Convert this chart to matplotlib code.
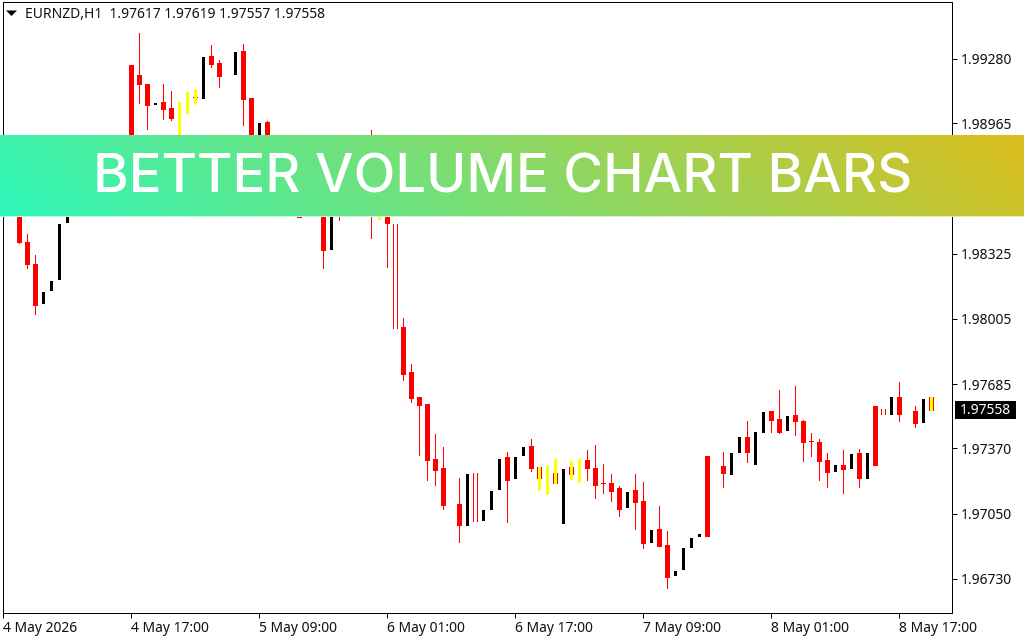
import numpy as np
import matplotlib
matplotlib.use("Agg")
import matplotlib.pyplot as plt
from matplotlib.patches import Rectangle, Polygon

# One entry per H1 bar. R solid red candle, K black bar, Y yellow bar, H hollow red candle, N no bar
bar_kinds = list(
    "RRRRRKKKKK" "KRKRKKRRRK" "RRYYYKRRNK" "RRKRKRKRKR"
    "RKRKRKRYRH" "RRRRRRNRKH" "KKKRKKRYYY" "KYYRRRRRKR"
    "RKRRKKKKRN" "RKKRKKRRKR" "RRRRKRKRKR" "HKRNRKY"
)
# prices in points (1 point = 0.00001)
highs = [198637,198640,198650,198421,198318,198137,198191,198471,198560,198620,
         198680,198720,198760,198800,198850,198890,199250,199407,199157,199064,
         199157,199123,199069,199118,199133,199289,199348,199275,None,199314,
         199353,199088,198966,198976,198850,198830,198780,198680,198660,198620,
         198650,198600,198650,198700,198760,198820,198931,198750,198700,198471,
         198010,197784,197622,197588,197441,197377,None,197225,197245,197249,
         197068,197161,197318,197352,197328,197377,197416,197279,197284,197318,
         197269,197308,197318,197362,197387,197294,197245,197186,197156,197245,
         197205,196970,197088,196965,196769,196882,196931,196950,197333,None,
         197352,197347,197426,197504,197450,197549,197553,197656,197529,197676,
         197509,197446,197416,197347,197289,197362,197343,197367,197347,197578,
         197563,197622,197696,None,197578,197612,197622]
lows = [198495,198530,198377,198255,198029,198083,198147,198201,198480,198540,
        198610,198600,198680,198650,198740,198800,198882,199064,198936,199059,
        198985,198981,198882,199015,199064,199088,199240,199142,None,199206,
        198956,198833,198833,198809,198760,198720,198680,198505,198560,198530,
        198255,198348,198490,198600,198620,198700,198402,198495,198260,197960,
        197705,197598,197338,197215,197191,197073,None,196911,196994,197014,
        197019,197073,197171,197009,197225,197338,197259,197166,197146,197200,
        197004,197220,197205,197215,197127,197151,197112,197039,197083,196975,
        196882,196911,196891,196685,196749,196779,196887,196940,196940,None,
        197181,197245,197352,197303,197294,197450,197450,197446,197460,197436,
        197308,197333,197215,197181,197259,197151,197274,197181,197225,197289,
        197539,197539,197504,None,197475,197500,197558]
body_tops = [198588,198590,198560,198382,198274,None,None,None,None,None,
             None,198700,None,198770,None,None,199250,199201,199157,None,
             199069,199039,None,None,199093,None,199294,199260,None,None,
             199319,199088,None,198971,None,198800,None,198650,None,198600,
             198590,None,198620,None,198730,None,198760,None,198650,198471,
             197965,197745,197622,197588,197318,197274,None,197097,None,197249,
             None,None,None,197328,None,None,197382,197279,None,197249,
             None,197279,None,197313,197274,197200,197200,197176,None,197166,
             197112,None,196975,196896,None,None,None,None,197333,None,
             197284,None,None,197426,None,None,197553,197514,None,197534,
             197504,197406,197401,197313,None,197289,None,197347,None,197578,
             197563,None,197622,None,197553,None,197622]
body_bottoms = [198539,198550,198382,198274,198073,None,None,None,None,None,
                None,198630,None,198690,None,None,198882,199157,199054,None,
                199034,198990,None,None,199093,None,199255,199196,None,None,
                199084,198833,None,198833,None,198740,None,198505,None,198550,
                198343,None,198530,None,198650,None,198650,None,198475,197960,
                197735,197617,197583,197313,197264,197092,None,196994,None,197014,
                None,None,None,197215,None,None,197274,197225,None,197200,
                None,197245,None,197274,197191,197200,197161,197073,None,197107,
                196906,None,196891,196739,None,None,None,None,196940,None,
                197249,None,None,197352,None,None,197509,197450,None,197504,
                197401,197406,197308,197254,None,197269,None,197225,None,197289,
                197539,None,197539,None,197495,None,197558]

price_ticks = [1.99280, 1.98965, 1.98645, 1.98325, 1.98005, 1.97685, 1.97370, 1.97050, 1.96730]
time_positions = [0, 16, 32, 48, 64, 80, 96, 112]
time_labels = ["4 May 2026", "4 May 17:00", "5 May 09:00", "6 May 01:00",
               "6 May 17:00", "7 May 09:00", "8 May 01:00", "8 May 17:00"]
header = "EURNZD,H1  1.97617 1.97619 1.97557 1.97558"
last_price = 1.97558
banner_title = "BETTER VOLUME CHART BARS"

W, H = 1024, 640
RED, BLACK, YELLOW = "#ff0000", "#000000", "#ffff00"
FONT = "Noto Sans"
LABEL = 10.0
PT = 0.72  # one pixel in points at dpi 100

fig = plt.figure(figsize=(W / 100, H / 100), dpi=100, facecolor="white")
L, R, T, B = 3.0, 952.0, 2.0, 613.0
ax = fig.add_axes([L / W, 1 - B / H, (R - L) / W, (B - T) / H])
ax.set_xlim(-0.06, (R - L) / 8 - 0.06)
ax.set_ylim(1.96563, 1.99559)

def block(i, top, bottom, half_px, color, z=3):
    ax.bar(i, (top - bottom) / 1e5, bottom=bottom / 1e5, width=half_px * 2 / 8,
           facecolor=color, edgecolor=color, linewidth=PT,
           antialiased=False, zorder=z)

def hollow(i, top, bottom):
    if top == bottom:
        block(i, top, bottom, 2, RED)
        return
    ax.vlines([i - 0.25, i + 0.25], bottom / 1e5, top / 1e5, color=RED, linewidth=PT,
              antialiased=False, zorder=3)

for i, kind in enumerate(bar_kinds):
    if kind == "N":
        continue
    hi, lo, top, bot = highs[i], lows[i], body_tops[i], body_bottoms[i]
    if kind == "R":
        ax.vlines(i, lo / 1e5, hi / 1e5, color=RED, linewidth=PT, antialiased=False, zorder=2)
        block(i, top, bot, 2, RED)
    elif kind == "H":
        hollow(i, top, bot)
    elif kind == "K":
        block(i, hi, lo, 1, BLACK)
    elif kind == "Y":
        if top is not None:
            hollow(i, top, bot)
        block(i, hi, lo, 1, YELLOW, z=4)

for s in ax.spines.values():
    s.set_linewidth(PT)
    s.set_color("black")

ax.yaxis.tick_right()
ax.set_yticks(price_ticks)
ax.set_yticklabels([f"{p:.5f}" for p in price_ticks], family=FONT, fontsize=LABEL)
ax.set_xticks(time_positions)
ax.set_xticklabels(time_labels, family=FONT, fontsize=LABEL, ha="left")
ax.tick_params(axis="both", length=3.6, width=PT, color="black", labelcolor="#111111")
ax.tick_params(axis="y", pad=2.5)
ax.tick_params(axis="x", pad=2.5)

def px(x, y):
    return x / W, 1 - y / H

# header
fig.text(*px(25, 14), header, family=FONT, fontsize=LABEL, va="center", ha="left", color="#111111")
fig.add_artist(Polygon([px(6, 10.5), px(17, 10.5), px(11.5, 16)], closed=True,
                       facecolor="black", edgecolor="none", transform=fig.transFigure))

# last price tag
fig.add_artist(Rectangle(px(955, 418.5), 61 / W, 17.5 / H, facecolor="black", edgecolor="none",
                         transform=fig.transFigure))
fig.text(*px(960, 410), f"{last_price:.5f}", family=FONT, fontsize=LABEL, va="center", ha="left", color="white")

# banner
by0, by1 = 135, 217
rows = by1 - by0
ban = fig.add_axes([0, 1 - by1 / H, 1, rows / H], zorder=10)
ban.axis("off")
xx, yy = np.meshgrid(np.linspace(0, 1, W), np.linspace(0, 1, rows))
t = (xx * W - yy * 100 + 100) / (W + 100)
c0 = np.array([45, 247, 186]) / 255
c1 = np.array([220, 190, 28]) / 255
img = c0 + (c1 - c0) * t[..., None]
img[-1] = img[-1] * 0.35 + 0.65
ban.imshow(img, aspect="auto", origin="upper", extent=(0, 1, 0, 1), interpolation="nearest")
ban.set_xlim(0, 1)
ban.set_ylim(0, 1)
ban.text(502.5 / W, 0.47, banner_title, family="Inter", fontsize=39.2, fontweight="medium",
         color="white", ha="center", va="center", zorder=11)

fig.savefig("out.png", dpi=100, facecolor="white")
